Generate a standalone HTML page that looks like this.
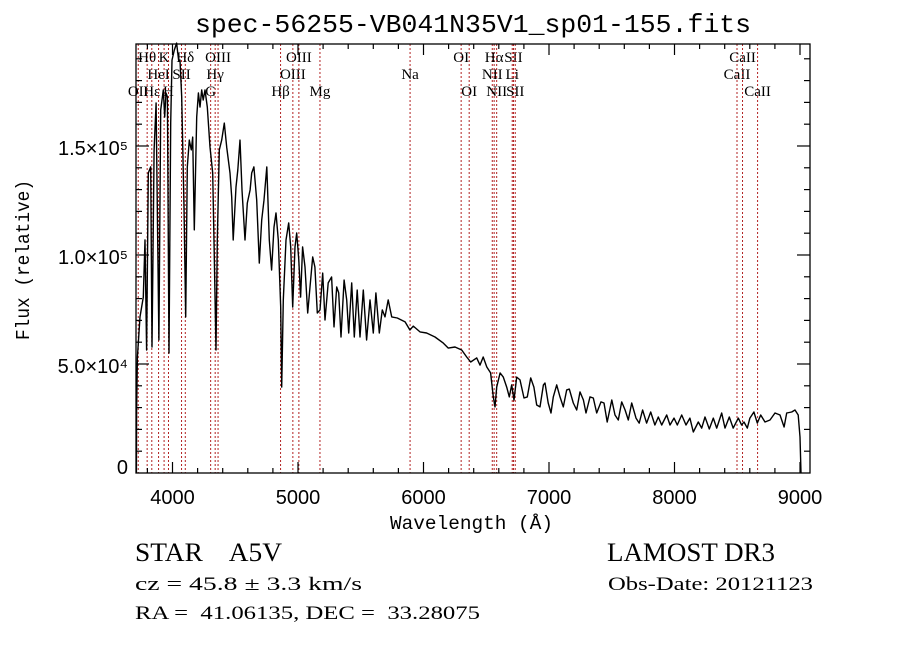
<!DOCTYPE html>
<html><head><meta charset="utf-8"><style>
html,body{margin:0;padding:0;background:#fff;}
svg{display:block;}
text{white-space:pre;}
</style></head><body>
<svg id="chart" width="900" height="649" viewBox="0 0 900 649" xmlns="http://www.w3.org/2000/svg" xml:space="preserve">
<rect x="0" y="0" width="900" height="649" fill="#fff"/>
<text x="195" y="32" font-family="Liberation Mono, monospace" font-size="26" textLength="556" lengthAdjust="spacingAndGlyphs">spec-56255-VB041N35V1_sp01-155.fits</text>
<g id="lines"></g>
<g id="series"></g>
<g id="axes"></g>
<text x="390" y="529" font-family="Liberation Mono, monospace" font-size="19" textLength="163" lengthAdjust="spacingAndGlyphs">Wavelength (Å)</text>
<text transform="translate(29,340) rotate(-90)" font-family="Liberation Mono, monospace" font-size="19" textLength="160" lengthAdjust="spacingAndGlyphs">Flux (relative)</text>
<text x="135" y="561" font-family="Liberation Serif, serif" font-size="26" textLength="147" lengthAdjust="spacingAndGlyphs">STAR    A5V</text>
<text x="607" y="561" font-family="Liberation Serif, serif" font-size="26" textLength="168" lengthAdjust="spacingAndGlyphs">LAMOST DR3</text>
<text x="135" y="590" font-family="Liberation Serif, serif" font-size="19" textLength="227" lengthAdjust="spacingAndGlyphs">cz = 45.8 ± 3.3 km/s</text>
<text x="608" y="590" font-family="Liberation Serif, serif" font-size="19" textLength="205" lengthAdjust="spacingAndGlyphs">Obs-Date: 20121123</text>
<text x="135" y="619" font-family="Liberation Serif, serif" font-size="19" textLength="345" lengthAdjust="spacingAndGlyphs">RA =  41.06135, DEC =  33.28075</text>
</svg>
<script>
const wavelength = [3712,3714,3720,3741,3767,3781,3794,3807,3826,3837,3853,3869,3879,3892,3906,3927,3938,3948,3959,3972,3986,3996,4014,4033,4049,4060,4073,4092,4105,4118,4134,4150,4161,4174,4193,4206,4219,4233,4245,4259,4277,4299,4320,4333,4347,4357,4373,4392,4413,4432,4458,4472,4484,4506,4520,4538,4554,4578,4596,4618,4631,4649,4671,4692,4711,4729,4751,4771,4790,4809,4825,4843,4862,4870,4883,4904,4926,4942,4958,4976,4990,5006,5021,5037,5056,5077,5096,5117,5135,5154,5175,5197,5215,5241,5268,5287,5308,5324,5343,5367,5388,5404,5428,5449,5472,5494,5520,5547,5574,5600,5621,5648,5672,5693,5719,5747,5791,5853,5892,5919,5972,6025,6092,6158,6198,6251,6304,6344,6376,6424,6450,6476,6504,6535,6556,6570,6583,6610,6636,6663,6684,6703,6721,6743,6769,6801,6827,6854,6880,6902,6928,6955,6968,6994,7016,7034,7061,7088,7114,7141,7162,7194,7221,7247,7274,7295,7327,7353,7380,7414,7438,7464,7500,7526,7552,7579,7606,7632,7659,7693,7719,7746,7778,7810,7844,7871,7898,7938,7964,7996,8022,8057,8092,8123,8150,8190,8217,8243,8277,8309,8336,8376,8402,8437,8468,8508,8535,8554,8580,8601,8633,8660,8687,8721,8761,8801,8841,8873,8894,8934,8960,8986,9000,9008];
const fluxK = [0,29,53.2,71.6,80.7,106.9,56.4,137.6,140.4,57.8,148.2,169.7,122,61,166.5,175.7,163.3,174.3,172.5,55,160.5,189.4,194,197.2,189.4,189.4,172.5,122,71.6,140.4,152.7,148.2,154.1,111.5,163.3,174.3,167.9,175.7,171.1,175.7,167.9,149.5,137.6,99.1,56.4,106.9,148.2,152.7,160.5,149.5,137.6,126.6,106.9,131.2,139,152.7,129.8,106.9,123.8,129.8,137.6,140.4,125.2,96.3,116,125.2,140.4,106.9,93.1,112.8,119.3,106.9,76.1,39.4,79.4,106.9,114.7,103.7,76.1,103.7,110.1,97.7,80.7,103.7,94.5,73.4,85.3,99.1,94.5,73.4,74.8,91.7,70.2,87.2,89.9,67,85.3,82.6,62.4,88.5,79.4,64.2,87.2,62.4,83.9,62.4,83.9,61,79.4,64.2,82.6,64.2,74.8,71.6,79.4,71.6,71.1,69.3,65.6,67.4,64.7,64.2,62.4,59.6,57.3,57.8,56.4,53.2,50.9,52.8,49.5,53.2,48.6,45.9,34.9,30.3,39.4,45.9,44,39.4,34.9,40.4,33.5,44,42.7,34.4,34.9,43.6,39.4,31.2,30.3,40.4,41.3,32.1,27.5,34.9,40.4,34.9,30.3,38.1,38.5,32.1,28.9,37.2,33.5,27.5,34.9,34.4,27.5,32.6,32.1,23.4,33.5,26.6,24.3,32.6,28.9,24.3,32.1,25.2,22.9,28.9,22.9,28,22,25.7,22,26.6,22,25.2,22,26.6,22,25.2,18.8,23.4,20.6,25.7,20.2,25.2,20.6,27.5,20.6,25.7,20.6,25.2,22,23.4,20.6,25.2,28,22.9,26.6,23.4,24.3,27.5,26.6,21.1,27.5,28,28.9,26.6,16.5,0];
const lineWave = [3727,3798,3835,3889,3933,3968,4072,4102,4304,4340,4363,4861,4959,5007,5175,5893,6300,6364,6548,6563,6583,6707,6717,6731,8498,8542,8662];
const lineLabels = ["OII","Hθ","Hε","HeI","K","H","SII","Hδ","G","Hγ","OIII","Hβ","OIII","OIII","Mg","Na","OI","OI","NII","Hα","NII","Li","SII","SII","CaII","CaII","CaII"];
const lineRows = [2,0,2,1,0,2,1,0,2,1,0,2,1,0,2,1,0,2,1,0,2,1,0,2,1,0,2];
const xTickValues = [4000,5000,6000,7000,8000,9000];
const xTickLabels = ["4000","5000","6000","7000","8000","9000"];
const yTickValuesK = [0,50,100,150];
const yTickLabels = ["0","5.0×10⁴","1.0×10⁵","1.5×10⁵"];

const L=136,R=810,T=44,B=473;
function xs(w){return 172.5+(w-4000)*0.1255;}
function ys(fk){return B-fk/0.4587;}
const NS="http://www.w3.org/2000/svg";
function mk(tag,parent){const e=document.createElementNS(NS,tag);parent.appendChild(e);return e;}

const gl=document.getElementById('lines');
const rowY=[62,79,96];
lineWave.forEach((w,i)=>{
  const ln=mk('line',gl);
  
  
  const x=xs(w);
  ln.setAttribute('x1',x);ln.setAttribute('x2',x);ln.setAttribute('y1',T);ln.setAttribute('y2',B);
  ln.setAttribute('stroke','#b22222');ln.setAttribute('stroke-width','1');ln.setAttribute('stroke-dasharray','2,2');
  const t=mk('text',gl);
  
  
  t.setAttribute('x',x);t.setAttribute('y',rowY[lineRows[i]]);
  t.setAttribute('text-anchor','middle');
  t.setAttribute('font-family','Liberation Serif, serif');t.setAttribute('font-size','15');
  t.textContent=lineLabels[i];
});

const gs=document.getElementById('series');
const p=mk('path',gs);


p.setAttribute('d',wavelength.map((w,i)=>(i?'L':'M')+xs(w).toFixed(1)+','+ys(fluxK[i]).toFixed(1)).join(''));
p.setAttribute('fill','none');p.setAttribute('stroke','#000');p.setAttribute('stroke-width','1.4');p.setAttribute('stroke-linejoin','round');

const ga=document.getElementById('axes');
const fr=mk('rect',ga);


fr.setAttribute('x',L);fr.setAttribute('y',T);fr.setAttribute('width',R-L);fr.setAttribute('height',B-T);
fr.setAttribute('fill','none');fr.setAttribute('stroke','#000');fr.setAttribute('stroke-width','1.3');
function tick(x1,y1,x2,y2,name){const l=mk('line',ga);l.setAttribute('x1',x1);l.setAttribute('y1',y1);l.setAttribute('x2',x2);l.setAttribute('y2',y2);l.setAttribute('stroke','#000');l.setAttribute('stroke-width','1.2');}
for(let w=3800;w<=9000;w+=200){
  const x=xs(w);const major=w%1000===0;const len=major?11:5;
  tick(x,B,x,B-len,'x-tick');tick(x,T,x,T+len,'x-tick-top');
}
for(let f=10;f<=190;f+=10){
  const y=ys(f);const major=f%50===0;const len=major?13:6;
  tick(L,y,L+len,y,'y-tick');tick(R,y,R-len,y,'y-tick-right');
}
xTickValues.forEach((v,i)=>{
  const t=mk('text',ga);
  
  
  t.setAttribute('x',xs(v));t.setAttribute('y',504);t.setAttribute('text-anchor','middle');
  t.setAttribute('font-family','Liberation Sans, sans-serif');t.setAttribute('font-size','20');
  t.textContent=xTickLabels[i];
});
yTickValuesK.forEach((v,i)=>{
  const t=mk('text',ga);
  
  
  t.setAttribute('x',128);t.setAttribute('y',Math.min(ys(v)+9,474));t.setAttribute('text-anchor','end');
  t.setAttribute('font-family','Liberation Sans, sans-serif');t.setAttribute('font-size','20');
  t.textContent=yTickLabels[i];
});
</script>
</body></html>
